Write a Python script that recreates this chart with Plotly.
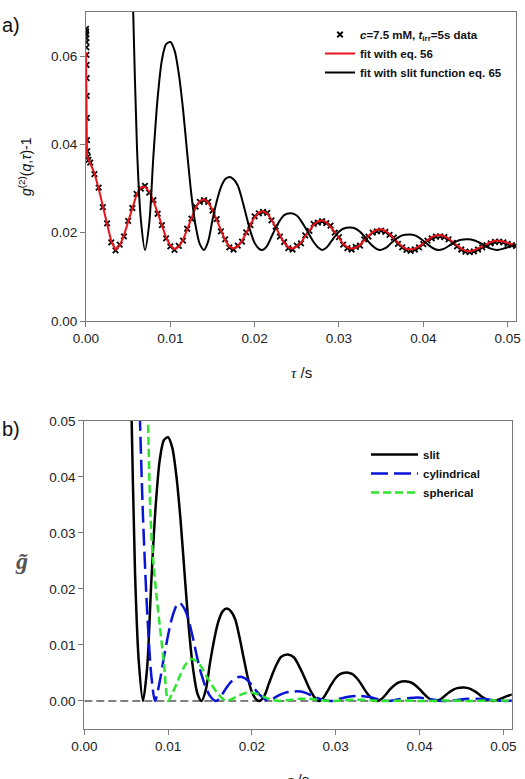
import plotly.graph_objects as go

# ---------------- Panel a data ----------------
# measured data: dense points at the very start, then regular lag grid
tau_data_start = [0.0, 0.00001, 0.00002, 0.00003, 0.00004, 0.00005, 0.00006, 0.00007,
                  0.00008, 0.00009, 0.0001, 0.00012, 0.00015, 0.0002, 0.0003]
g2_data_start = [0.0662, 0.0656, 0.0649, 0.0641, 0.0632, 0.0620, 0.0603, 0.0580,
                 0.0550, 0.0510, 0.0460, 0.0410, 0.0385, 0.0372, 0.0365]

tau_grid = [0.0005, 0.0010, 0.0015, 0.0020, 0.0025, 0.0030, 0.0035, 0.0040, 0.0045, 0.0050,
            0.0055, 0.0060, 0.0065, 0.0070, 0.0075, 0.0080, 0.0085, 0.0090, 0.0095, 0.0100,
            0.0105, 0.0110, 0.0115, 0.0120, 0.0125, 0.0130, 0.0135, 0.0140, 0.0145, 0.0150,
            0.0155, 0.0160, 0.0165, 0.0170, 0.0175, 0.0180, 0.0185, 0.0190, 0.0195, 0.0200,
            0.0205, 0.0210, 0.0215, 0.0220, 0.0225, 0.0230, 0.0235, 0.0240, 0.0245, 0.0250,
            0.0255, 0.0260, 0.0265, 0.0270, 0.0275, 0.0280, 0.0285, 0.0290, 0.0295, 0.0300,
            0.0305, 0.0310, 0.0315, 0.0320, 0.0325, 0.0330, 0.0335, 0.0340, 0.0345, 0.0350,
            0.0355, 0.0360, 0.0365, 0.0370, 0.0375, 0.0380, 0.0385, 0.0390, 0.0395, 0.0400,
            0.0405, 0.0410, 0.0415, 0.0420, 0.0425, 0.0430, 0.0435, 0.0440, 0.0445, 0.0450,
            0.0455, 0.0460, 0.0465, 0.0470, 0.0475, 0.0480, 0.0485, 0.0490, 0.0495, 0.0500,
            0.0505, 0.0510]

g2_data_grid = [0.0359, 0.0333, 0.0302, 0.0258, 0.0221, 0.0178, 0.0160, 0.0173, 0.0192, 0.0227,
                0.0256, 0.0288, 0.0300, 0.0306, 0.0291, 0.0274, 0.0243, 0.0217, 0.0187, 0.0169,
                0.0161, 0.0170, 0.0182, 0.0209, 0.0232, 0.0259, 0.0270, 0.0274, 0.0270, 0.0250,
                0.0231, 0.0203, 0.0185, 0.0167, 0.0162, 0.0171, 0.0180, 0.0201, 0.0217, 0.0237,
                0.0244, 0.0247, 0.0245, 0.0228, 0.0214, 0.0191, 0.0179, 0.0165, 0.0162, 0.0171,
                0.0176, 0.0194, 0.0204, 0.0220, 0.0223, 0.0226, 0.0222, 0.0216, 0.0200, 0.0190,
                0.0173, 0.0165, 0.0162, 0.0168, 0.0171, 0.0185, 0.0191, 0.0200, 0.0203, 0.0205,
                0.0202, 0.0195, 0.0189, 0.0175, 0.0167, 0.0161, 0.0159, 0.0162, 0.0167, 0.0174,
                0.0182, 0.0187, 0.0191, 0.0192, 0.0190, 0.0185, 0.0177, 0.0169, 0.0162, 0.0157,
                0.0156, 0.0158, 0.0162, 0.0167, 0.0172, 0.0176, 0.0179, 0.0180, 0.0178, 0.0175,
                0.0172, 0.0170]

# fit with eq. 56
tau_fit_start = [0.0, 0.00012]
g2_fit_start = [0.0609, 0.0374]
g2_fit_grid = [0.0357, 0.0335, 0.0300, 0.0260, 0.0219, 0.0180, 0.0162, 0.0171, 0.0194, 0.0225,
               0.0258, 0.0286, 0.0302, 0.0304, 0.0293, 0.0272, 0.0245, 0.0215, 0.0189, 0.0171,
               0.0163, 0.0168, 0.0184, 0.0207, 0.0234, 0.0257, 0.0272, 0.0276, 0.0268, 0.0252,
               0.0229, 0.0205, 0.0183, 0.0169, 0.0164, 0.0169, 0.0182, 0.0199, 0.0219, 0.0235,
               0.0246, 0.0249, 0.0243, 0.0230, 0.0212, 0.0193, 0.0177, 0.0167, 0.0164, 0.0169,
               0.0178, 0.0192, 0.0206, 0.0218, 0.0226, 0.0228, 0.0224, 0.0214, 0.0202, 0.0188,
               0.0175, 0.0167, 0.0164, 0.0166, 0.0173, 0.0183, 0.0193, 0.0202, 0.0207, 0.0208,
               0.0204, 0.0197, 0.0187, 0.0177, 0.0169, 0.0163, 0.0162, 0.0164, 0.0169, 0.0176,
               0.0184, 0.0190, 0.0194, 0.0195, 0.0192, 0.0187, 0.0179, 0.0171, 0.0164, 0.0159,
               0.0158, 0.0160, 0.0164, 0.0169, 0.0174, 0.0179, 0.0182, 0.0182, 0.0180, 0.0177,
               0.0174, 0.0171]

# slit function (eq. 65) - shared lag values for both panels
tau_slit = [0.0050, 0.00565, 0.00605, 0.0065, 0.0070, 0.0075, 0.0080, 0.0085, 0.0090, 0.0095,
            0.0100, 0.0105, 0.0110, 0.0115, 0.0120, 0.0125, 0.0130, 0.0135, 0.0140, 0.0145,
            0.0150, 0.0155, 0.0160, 0.0165, 0.0170, 0.0175, 0.0180, 0.0185, 0.0190, 0.0195,
            0.0200, 0.0205, 0.0209, 0.0215, 0.0220, 0.0225, 0.0230, 0.0235, 0.0243, 0.0250,
            0.0255, 0.0260, 0.0265, 0.0270, 0.0275, 0.0280, 0.0285, 0.0290, 0.0295, 0.0300,
            0.0305, 0.0313, 0.0320, 0.0325, 0.0330, 0.0335, 0.0340, 0.0345, 0.0349, 0.0355,
            0.0360, 0.0365, 0.0370, 0.0375, 0.0384, 0.0390, 0.0395, 0.0400, 0.0405, 0.0410,
            0.0415, 0.0419, 0.0425, 0.0430, 0.0435, 0.0440, 0.0445, 0.0453, 0.0460, 0.0465,
            0.0470, 0.0475, 0.0480, 0.0488, 0.0495, 0.0500, 0.0505, 0.0511]

g2_slit_a = [0.1161, 0.0661, 0.0391, 0.0231, 0.0161, 0.0221, 0.0376, 0.0506, 0.0591, 0.0627,
             0.0632, 0.0613, 0.0561, 0.0481, 0.0381, 0.0286, 0.0216, 0.0174, 0.0161, 0.0181,
             0.0229, 0.0271, 0.0303, 0.0321, 0.0326, 0.0321, 0.0307, 0.0276, 0.0239, 0.0203,
             0.0177, 0.0164, 0.0161, 0.0171, 0.0191, 0.0211, 0.0228, 0.0240, 0.0244, 0.0239,
             0.0227, 0.0212, 0.0195, 0.0179, 0.0167, 0.0161, 0.0166, 0.0178, 0.0191, 0.0202,
             0.0209, 0.0212, 0.0209, 0.0202, 0.0192, 0.0180, 0.0170, 0.0163, 0.0161, 0.0165,
             0.0173, 0.0182, 0.0189, 0.0194, 0.0196, 0.0194, 0.0189, 0.0182, 0.0174, 0.0167,
             0.0162, 0.0161, 0.0164, 0.0170, 0.0176, 0.0181, 0.0184, 0.0185, 0.0183, 0.0179,
             0.0174, 0.0168, 0.0164, 0.0161, 0.0164, 0.0167, 0.0170, 0.0173]

# ---------------- Panel b data ----------------
gt_slit = [0.1000, 0.0500, 0.0230, 0.0070, 0.0000, 0.0060, 0.0215, 0.0345, 0.0430, 0.0466,
           0.0471, 0.0452, 0.0400, 0.0320, 0.0220, 0.0125, 0.0055, 0.0013, 0.0000, 0.0020,
           0.0068, 0.0110, 0.0142, 0.0160, 0.0165, 0.0160, 0.0146, 0.0115, 0.0078, 0.0042,
           0.0016, 0.0003, 0.0000, 0.0010, 0.0030, 0.0050, 0.0067, 0.0079, 0.0083, 0.0078,
           0.0066, 0.0051, 0.0034, 0.0018, 0.0006, 0.0000, 0.0005, 0.0017, 0.0030, 0.0041,
           0.0048, 0.0051, 0.0048, 0.0041, 0.0031, 0.0019, 0.0009, 0.0002, 0.0000, 0.0004,
           0.0012, 0.0021, 0.0028, 0.0033, 0.0035, 0.0033, 0.0028, 0.0021, 0.0013, 0.0006,
           0.0001, 0.0000, 0.0003, 0.0009, 0.0015, 0.0020, 0.0023, 0.0024, 0.0022, 0.0018,
           0.0013, 0.0007, 0.0003, 0.0000, 0.0003, 0.0006, 0.0009, 0.0012]

tau_cyl = [0.0060, 0.0066, 0.0070, 0.0075, 0.0080, 0.00844, 0.0090, 0.0095, 0.0100, 0.0105,
           0.0110, 0.0114, 0.0120, 0.0124, 0.0130, 0.0135, 0.0140, 0.0145, 0.0150, 0.0157,
           0.0162, 0.0168, 0.0175, 0.0182, 0.0188, 0.0195, 0.0202, 0.0210, 0.0218, 0.0225,
           0.0232, 0.0240, 0.0250, 0.0258, 0.0265, 0.0275, 0.0285, 0.0294, 0.0305, 0.0317,
           0.0328, 0.0340, 0.0352, 0.0363, 0.0375, 0.0387, 0.0398, 0.0410, 0.0422, 0.0432,
           0.0445, 0.0457, 0.0468, 0.0480, 0.0492, 0.0502, 0.0511]
gt_cyl = [0.0800, 0.0520, 0.0330, 0.0160, 0.0045, 0.0000, 0.0035, 0.0078, 0.0118, 0.0150,
          0.0170, 0.0175, 0.0163, 0.0147, 0.0110, 0.0075, 0.0046, 0.0024, 0.0009, 0.0000,
          0.0006, 0.0020, 0.0034, 0.0042, 0.0043, 0.0037, 0.0024, 0.0010, 0.0001, 0.0004,
          0.0010, 0.0015, 0.0017, 0.0017, 0.0014, 0.0007, 0.0002, 0.0000, 0.0004, 0.0008,
          0.0009, 0.0007, 0.0003, 0.0000, 0.0003, 0.0005, 0.0006, 0.0004, 0.0001, 0.0000,
          0.0002, 0.0004, 0.0004, 0.0003, 0.0001, 0.0000, 0.0001]

tau_sph = [0.0070, 0.0076, 0.0079, 0.0082, 0.0086, 0.0090, 0.0095, 0.0100, 0.0105, 0.0110,
           0.0115, 0.0120, 0.0125, 0.0129, 0.0134, 0.0140, 0.0145, 0.0150, 0.0155, 0.0160,
           0.0165, 0.0170, 0.0177, 0.0185, 0.0192, 0.0199, 0.0207, 0.0215, 0.0224, 0.0233,
           0.0245, 0.0257, 0.0268, 0.0280, 0.0292, 0.0305, 0.0318, 0.0330, 0.0343, 0.0356,
           0.0380, 0.0400, 0.0440, 0.0460, 0.0490, 0.0511]
gt_sph = [0.0900, 0.0500, 0.0330, 0.0255, 0.0190, 0.0135, 0.0068, 0.0000, 0.0014, 0.0030,
          0.0048, 0.0063, 0.0073, 0.0075, 0.0071, 0.0060, 0.0046, 0.0034, 0.0022, 0.0012,
          0.0004, 0.0000, 0.0004, 0.0010, 0.0014, 0.0015, 0.0012, 0.0007, 0.0002, 0.0000,
          0.0002, 0.0004, 0.0004, 0.0002, 0.0000, 0.0001, 0.0002, 0.0002, 0.0001, 0.0000,
          0.0001, 0.0000, 0.0001, 0.0000, 0.0001, 0.0000]

zero_line_x = [0.0, 0.0511]
zero_line_y = [0.0, 0.0]

x_ticks = [0.0, 0.01, 0.02, 0.03, 0.04, 0.05]
ya_ticks = [0.0, 0.02, 0.04, 0.06]
yb_ticks = [0.0, 0.01, 0.02, 0.03, 0.04, 0.05]

# ---------------- Figure ----------------
SANS = "Arial, 'Liberation Sans', Helvetica, sans-serif"
SERIF = "'Times New Roman', 'Liberation Serif', serif"
AXC = "#7a7a7a"

fig = go.Figure()

fig.add_trace(go.Scatter(
    x=tau_data_start + tau_grid, y=g2_data_start + g2_data_grid,
    mode="markers", xaxis="x", yaxis="y", legend="legend",
    marker=dict(symbol="x-thin", size=5.5, color="black", line=dict(width=1.8, color="black")),
    name="<b><i>c</i>=7.5 mM, <i>t</i><sub>irr</sub>=5s data</b>"))
fig.add_trace(go.Scatter(
    x=tau_fit_start + tau_grid, y=g2_fit_start + g2_fit_grid,
    mode="lines", xaxis="x", yaxis="y", legend="legend",
    line=dict(color="#e8141a", width=2), name="<b>fit with eq. 56</b>"))
fig.add_trace(go.Scatter(
    x=tau_slit, y=g2_slit_a, mode="lines", xaxis="x", yaxis="y", legend="legend",
    line=dict(color="black", width=2, shape="spline", smoothing=0.8),
    name="<b>fit with slit function eq. 65</b>"))

fig.add_trace(go.Scatter(
    x=zero_line_x, y=zero_line_y, mode="lines", xaxis="x2", yaxis="y2",
    line=dict(color="black", width=1, dash="8px,4px"), showlegend=False))
fig.add_trace(go.Scatter(
    x=tau_slit, y=gt_slit, mode="lines", xaxis="x2", yaxis="y2", legend="legend2",
    line=dict(color="black", width=2.5, shape="spline", smoothing=0.8), name="<b>slit</b>"))
fig.add_trace(go.Scatter(
    x=tau_cyl, y=gt_cyl, mode="lines", xaxis="x2", yaxis="y2", legend="legend2",
    line=dict(color="#0a14d8", width=2.5, dash="17px,6px", shape="spline", smoothing=0.8),
    name="<b>cylindrical</b>"))
fig.add_trace(go.Scatter(
    x=tau_sph, y=gt_sph, mode="lines", xaxis="x2", yaxis="y2", legend="legend2",
    line=dict(color="#2ee52e", width=2.5, dash="8px,4px", shape="spline", smoothing=0.8),
    name="<b>spherical</b>"))

axis_common = dict(showgrid=False, zeroline=False, showline=True, linecolor=AXC, linewidth=1,
                   mirror=True, ticks="outside", ticklen=5, tickcolor=AXC, tickwidth=1,
                   automargin=False,
                   tickfont=dict(family=SANS, size=13.5, color="#222"), tickformat=".2f")

fig.update_layout(
    width=525, height=779, margin=dict(l=0, r=0, t=0, b=0, pad=0, autoexpand=False),
    paper_bgcolor="white", plot_bgcolor="white",
    font=dict(family=SANS, color="#222"),
    xaxis=dict(domain=[0.1638, 0.9829], range=[0, 0.0510], tickvals=x_ticks,
               anchor="y", **axis_common),
    yaxis=dict(domain=[0.5879, 0.9846], range=[0, 0.07], tickvals=ya_ticks,
               anchor="x", **axis_common),
    xaxis2=dict(domain=[0.1606, 0.9747], range=[0, 0.0510], tickvals=x_ticks,
                anchor="y2", **axis_common),
    yaxis2=dict(domain=[0.0642, 0.4596], range=[-0.005, 0.05], tickvals=yb_ticks,
                anchor="x2", **axis_common),
    legend=dict(x=320/525, y=1-20/779, xanchor="left", yanchor="top",
                bgcolor="rgba(0,0,0,0)", borderwidth=0,
                font=dict(family=SANS, size=11.5, color="#111"), tracegroupgap=0),
    legend2=dict(x=366/525, y=1-440/779, xanchor="left", yanchor="top",
                 bgcolor="rgba(0,0,0,0)", borderwidth=0, itemwidth=47,
                 font=dict(family=SANS, size=11.5, color="#111"), tracegroupgap=0),
    annotations=[
        dict(text="a)", x=0.0, y=1-25/779, xref="paper", yref="paper", xanchor="left",
             yanchor="middle", showarrow=False, font=dict(family=SANS, size=20, color="#111")),
        dict(text="b)", x=0.0, y=1-429/779, xref="paper", yref="paper", xanchor="left",
             yanchor="middle", showarrow=False, font=dict(family=SANS, size=20, color="#111")),
        dict(text="<i>g</i><sup>(2)</sup>(<i>q</i>,<i>τ</i>)-1", x=25/525, y=1-167/779,
             xref="paper", yref="paper", xanchor="center", yanchor="middle", textangle=-90,
             showarrow=False, font=dict(family=SANS, size=14, color="#111")),
        dict(text="<span style='font-family:Liberation Serif'><i>τ</i></span> /s",
             x=301/525, y=1-372/779, xref="paper", yref="paper", xanchor="center",
             yanchor="middle", showarrow=False, font=dict(family=SANS, size=15, color="#111")),
        dict(text="<b><i>g̃</i></b>", x=21/525, y=1-561/779, xref="paper", yref="paper",
             xanchor="center", yanchor="middle", showarrow=False,
             font=dict(family=SERIF, size=24, color="#555")),
        dict(text="<span style='font-family:Liberation Serif'><i>τ</i></span> /s",
             x=298/525, y=1-779/779, xref="paper", yref="paper", xanchor="center",
             yanchor="middle", showarrow=False, font=dict(family=SANS, size=15, color="#111")),
    ],
)

fig.write_html("out.html")
